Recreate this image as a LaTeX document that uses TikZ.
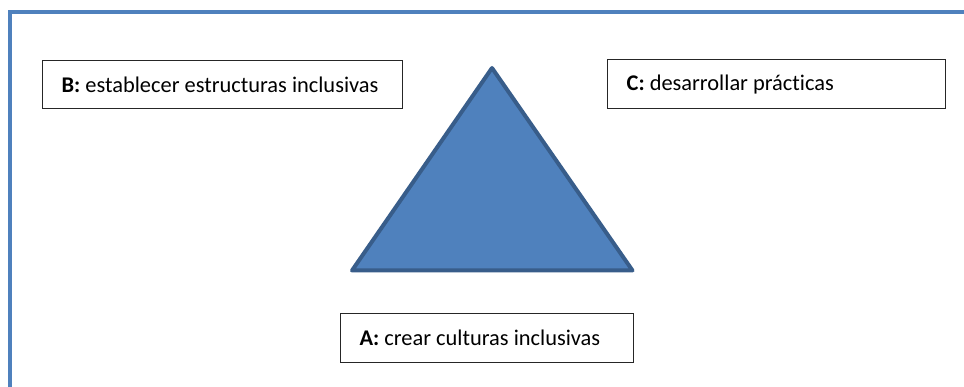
\documentclass[tikz,border=0pt]{standalone}
\usepackage{fontspec}
\setmainfont{Carlito}[Ligatures=NoCommon]
\definecolor{frameblue}{HTML}{4F81BD}
\definecolor{triborder}{HTML}{385D8A}
\newcommand{\lbltext}[2]{\makebox[#1][l]{#2}}
\begin{document}
\begin{tikzpicture}[x=1pt,y=-1pt,
  lbl/.style={draw=black!85, line width=1.3pt, fill=white, anchor=north west,
    inner xsep=19pt, inner ysep=0pt,
    font=\fontsize{22.4}{26}\selectfont}]
\useasboundingbox (0,0) rectangle (964,387);
% frame
\draw[frameblue, line width=4.8pt] (10,387) -- (10,12) -- (964,12);
% triangle
\coordinate (apex) at (492,68);
\coordinate (bl) at (352,270.5);
\coordinate (br) at (632.5,270.5);
\draw[triborder, fill=frameblue, line width=4pt, line join=round] (apex) -- (br) -- (bl) -- cycle;
% boxes
\node[lbl, minimum height=48pt] (B) at (42,60) {\lbltext{322pt}{\textbf{B:} establecer estructuras inclusivas}};
\node[lbl, minimum height=49pt] (C) at (607,59) {\lbltext{300pt}{\textbf{C:} desarrollar prácticas}};
\node[lbl, minimum height=49pt] (A) at (340,312.7) {\lbltext{255pt}{\textbf{A:} crear culturas inclusivas}};
\end{tikzpicture}
\end{document}
